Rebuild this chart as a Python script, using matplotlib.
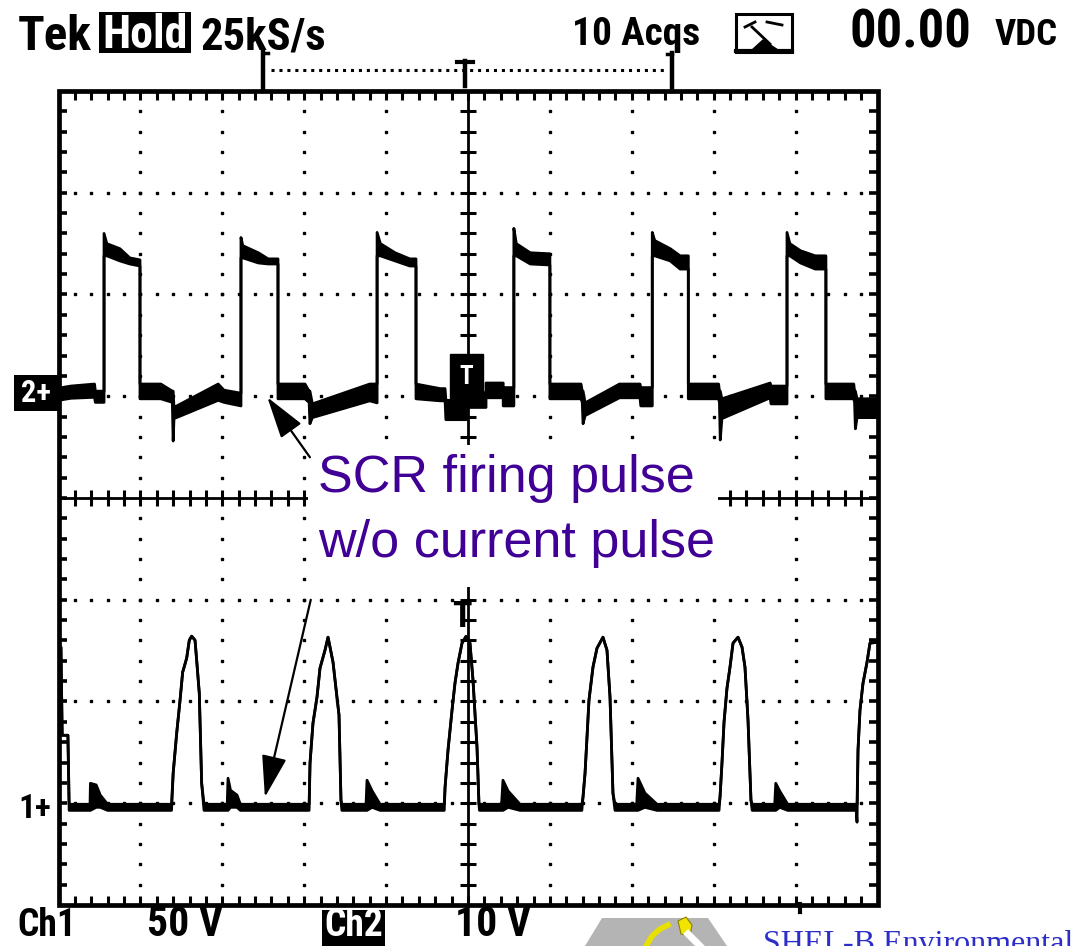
import matplotlib
matplotlib.use("Agg")
import matplotlib.pyplot as plt
from matplotlib import font_manager
from matplotlib.patches import Rectangle, Polygon

# scope settings (Tek, 10 ms/div, Ch1 50 V/div, Ch2 10 V/div)
ms_per_div = 10.0
ch1_volts_per_div = 50.0
ch2_volts_per_div = 10.0
ch1_ground_div = -3.0
ch2_ground_div = 1.0

# Ch2 : SCR gate firing pulses, envelope of 10 acqs  (t ms, low V, high V)
ch2_trace = [
    (0.0, -0.4, 0.8), (1.5, -0.2, 1.0), (4.4, -0.1, 1.2), (4.5, -0.6, 0.5),
    (5.56, -0.6, 0.5), (5.56, 13.8, 16.0), (5.9, 13.8, 15.0), (7.5, 13.3, 14.5),
    (8.7, 13.0, 13.6), (9.95, 12.8, 13.4), (9.95, -0.25, 1.2), (12.5, -0.25, 1.2),
    (13.9, -0.6, 0.5), (14.0, -4.4, 0.5), (14.1, -2.2, -1.1), (19.5, -0.4, 1.2),
    (20.2, -0.6, 0.6), (22.28, -0.95, 0.3),
    (22.28, 13.6, 15.6), (22.5, 13.6, 14.8), (24.4, 13.1, 14.1), (25.6, 13.0, 13.5),
    (26.8, 13.0, 13.5), (26.8, -0.25, 1.2), (30.1, -0.25, 1.2), (30.6, -0.6, 0.5),
    (30.7, -2.7, 0.5), (31.0, -2.1, -0.75), (38.0, -0.45, 1.2), (38.9, -0.65, 1.2),
    (38.9, 13.8, 16.1), (39.3, 13.8, 15.0), (41.1, 13.3, 14.1), (42.9, 12.8, 13.5),
    (43.65, 12.8, 13.5), (43.65, -0.25, 1.2), (46.6, -0.45, 0.75), (47.2, -0.45, 0.75),
    (47.3, -2.3, -0.4), (49.8, -2.3, -0.4), (49.8, -1.1, 0.35), (52.2, -1.1, 0.35),
    (52.2, -0.15, 1.3), (54.3, -0.15, 1.3), (54.3, -0.95, 0.85), (55.6, -0.95, 0.85),
    (55.6, 13.8, 16.5), (55.9, 13.8, 15.0), (57.6, 13.0, 14.1), (60.0, 12.9, 14.0),
    (60.0, -0.25, 1.2), (63.8, -0.25, 1.2), (63.95, -0.6, 0.5), (64.05, -2.7, 0.5),
    (64.3, -1.9, -0.65), (68.5, -0.15, 1.2), (71.0, -0.15, 1.2), (71.1, -0.95, 0.85),
    (72.5, -0.95, 0.85),
    (72.5, 13.8, 16.1), (72.8, 13.8, 15.3), (74.7, 13.3, 14.5), (75.9, 12.5, 13.8),
    (76.9, 12.5, 13.8), (76.9, -0.25, 1.2), (80.6, -0.25, 1.2), (80.7, -0.6, 0.5),
    (80.8, -4.3, 0.5), (81.0, -2.2, -0.25), (86.9, -0.15, 1.3), (87.0, -0.75, 1.0),
    (88.95, -0.75, 1.0),
    (88.95, 13.8, 16.1), (89.3, 13.8, 15.0), (90.6, 13.1, 14.3), (92.4, 12.5, 13.8),
    (93.7, 12.5, 13.8), (93.7, -0.25, 1.2), (97.1, -0.25, 1.2), (97.2, -0.6, 0.5),
    (97.3, -3.2, 0.5), (97.5, -2.1, -0.25), (100.0, -2.1, -0.25),
]

# Ch1 : load current pulses  (t ms, low V, high V)
ch1_trace = [
    (0.0, 76.7, 76.7), (0.3, 76.7, 76.7), (0.45, 33.4, 33.4), (1.15, 33.4, 33.4),
    (1.3, -3.5, -0.5), (3.85, -3.5, -0.5), (3.9, -3.5, 9.8), (4.6, -2.0, 9.0),
    (5.1, -2.0, 4.0), (6.0, -3.5, -0.5), (13.8, -3.5, -0.5),
    (14.0, 14.7, 14.7), (14.43, 34.4, 34.4), (14.84, 50.6, 50.6), (15.16, 64.4, 64.4),
    (15.65, 71.3, 71.3), (15.97, 80.1, 80.1), (16.26, 82.1, 82.1), (16.67, 80.1, 80.1),
    (16.87, 70.3, 70.3), (17.19, 54.1, 54.1), (17.48, 9.8, 9.8), (17.77, -3.5, -0.5),
    (20.6, -3.5, -0.5), (20.7, -3.5, 12.3), (21.0, -2.0, 6.4), (21.8, -2.0, 4.0),
    (22.2, -3.5, -0.5), (30.6, -3.5, -0.5),
    (30.71, 19.7, 19.7), (31.07, 39.3, 39.3), (31.56, 52.1, 52.1), (31.93, 66.4, 66.4),
    (32.54, 75.2, 75.2), (32.91, 81.6, 81.6), (33.52, 69.3, 69.3), (34.0, 52.1, 52.1),
    (34.25, 43.3, 43.3), (34.49, 1.5, 1.5), (34.6, -3.5, -0.5),
    (37.55, -3.5, -0.5), (37.67, -3.5, 11.3), (38.3, -2.0, 6.0), (39.26, -3.5, -0.5),
    (47.1, -3.5, -0.5),
    (47.2, 7.9, 7.9), (47.56, 26.1, 26.1), (48.05, 45.7, 45.7), (48.41, 59.0, 59.0),
    (48.78, 68.8, 68.8), (49.27, 78.7, 78.7), (49.76, 82.0, 82.0), (50.24, 78.7, 78.7),
    (50.61, 60.5, 60.5), (51.1, 27.5, 27.5), (51.34, -0.5, -0.5), (51.4, -3.5, -0.5),
    (54.1, -3.5, -0.5), (54.27, -3.5, 11.3), (54.9, -2.0, 6.0), (56.35, -3.5, -0.5),
    (63.9, -3.5, -0.5),
    (64.04, 2.9, 2.9), (64.29, 14.7, 14.7), (64.53, 32.4, 32.4), (64.77, 50.6, 50.6),
    (65.26, 66.9, 66.9), (65.75, 76.2, 76.2), (66.48, 81.6, 81.6), (66.97, 75.2, 75.2),
    (67.34, 52.1, 52.1), (67.7, 4.9, 4.9), (67.95, -3.5, -0.5),
    (70.6, -3.5, -0.5), (70.76, -3.5, 12.3), (71.6, -2.0, 5.0), (73.08, -3.5, -0.5),
    (80.65, -3.5, -0.5),
    (80.77, 2.9, 2.9), (81.01, 19.7, 19.7), (81.26, 39.8, 39.8), (81.62, 56.5, 56.5),
    (81.99, 66.9, 66.9), (82.36, 78.7, 78.7), (82.97, 81.6, 81.6), (83.46, 76.7, 76.7),
    (83.82, 66.9, 66.9), (84.19, 40.8, 40.8), (84.55, 1.5, 1.5), (84.7, -3.5, -0.5),
    (87.45, -3.5, -0.5), (87.58, -3.5, 9.8), (88.06, -2.0, 6.0), (89.04, -3.5, -0.5),
    (97.4, -3.5, -0.5), (97.5, -9.3, -0.5),
    (97.62, 26.1, 26.1), (97.86, 45.7, 45.7), (98.23, 59.0, 59.0), (98.72, 69.3, 69.3),
    (99.08, 78.7, 78.7), (100.0, 79.1, 79.1),
]

header_left = ["Tek", "Hold", "25kS/s"]
header_right = ["10 Acqs", "00.00", "VDC"]
footer = ["Ch1", "50 V", "Ch2", "10 V"]
note_lines = ["SCR firing pulse", "w/o current pulse"]
note_color = "#400096"

names = {f.name for f in font_manager.fontManager.ttflist}
scope_font = dict(family="DejaVu Sans", weight="bold", stretch="condensed")
for cand in ["Liberation Sans Narrow", "Roboto Condensed", "Open Sans Condensed"]:
    if cand in names:
        scope_font = dict(family=cand, weight="bold")
        break

fig = plt.figure(figsize=(10.73, 9.46), dpi=100, facecolor="white")
renderer = fig.canvas.get_renderer()

# overlay in pixel units for the scope header / footer
deco = fig.add_axes([0, 0, 1, 1])
deco.set_xlim(0, 1073)
deco.set_ylim(946, 0)
deco.axis("off")

ax = fig.add_axes([58.5 / 1073, 1 - 905 / 946, 819 / 1073, 814 / 946])
ax.set_xlim(0, 10)
ax.set_ylim(-4, 4)
ax.axis("off")
ax.patch.set_visible(False)


def scope_text(x0, x1, y, s, size, color="k", ha="left", va="baseline"):
    # scope's narrow pixel font: shrink until the text fits its slot
    xt = x0 if ha == "left" else (x0 + x1) / 2
    t = deco.text(xt, y, s, fontsize=size, color=color, ha=ha, va=va, **scope_font)
    w = t.get_window_extent(renderer=renderer).width
    if w > x1 - x0:
        t.set_fontsize(size * (x1 - x0) / w)
    return t


# ---- graticule
minor_x = [i * 0.2 for i in range(1, 50)]
minor_y = [-4 + i * 0.2 for i in range(1, 40)]
for gx in range(1, 10):
    if gx != 5:
        ax.plot([gx] * len(minor_y), minor_y, "s", color="k", ms=2.0, zorder=1)
for gy in range(-3, 4):
    if gy != 0:
        ax.plot(minor_x, [gy] * len(minor_x), "s", color="k", ms=2.0, zorder=1)

ax.plot([5, 5], [-4, 4], color="k", lw=2.0, zorder=1)
ax.plot([0, 10], [0, 0], color="k", lw=2.0, zorder=1)
ax.hlines(minor_y, 5 - 0.1, 5 + 0.1, color="k", lw=2.2, zorder=1)
ax.vlines(minor_x, -0.08, 0.08, color="k", lw=2.2, zorder=1)

ax.vlines(minor_x, 4 - 0.09, 4, color="k", lw=2.2, zorder=1)
ax.vlines(minor_x, -4, -4 + 0.09, color="k", lw=2.2, zorder=1)
ax.hlines(minor_y, 0, 0.1, color="k", lw=2.6, zorder=1)
ax.hlines(minor_y, 10 - 0.1, 10, color="k", lw=2.6, zorder=1)
ax.add_patch(Rectangle((0, -4), 10, 8, fill=False, ec="k", lw=3.4,
                       clip_on=False, zorder=2))


# ---- traces
def draw_trace(pts, ground, vdiv):
    t = [p[0] / ms_per_div for p in pts]
    lo = [p[1] / vdiv + ground for p in pts]
    hi = [p[2] / vdiv + ground for p in pts]
    ax.fill_between(t, lo, hi, color="k", lw=0, zorder=3)
    ax.plot(t, lo, color="k", lw=2.0, zorder=3)
    ax.plot(t, hi, color="k", lw=2.0, zorder=3)


draw_trace(ch2_trace, ch2_ground_div, ch2_volts_per_div)
draw_trace(ch1_trace, ch1_ground_div, ch1_volts_per_div)

# trigger markers
ax.add_patch(Rectangle((4.78, 0.98), 0.4, 0.435, fc="k", ec="k", zorder=4))
ax.text(4.98, 1.19, "T", color="white", ha="center", va="center",
        fontsize=18, zorder=5, **scope_font)
ax.text(4.92, -1.17, "T", color="k", ha="center", va="center",
        fontsize=26, zorder=5, **scope_font)

# ---- annotation
ax.add_patch(Rectangle((3.05, -0.87), 5.0, 1.39, fc="white", ec="none", zorder=5))
ax.text(3.17, 0.06, note_lines[0], color=note_color, fontsize=37.5,
        family="Liberation Sans", va="baseline", zorder=6)
ax.text(3.17, -0.58, note_lines[1], color=note_color, fontsize=37.5,
        family="Liberation Sans", va="baseline", zorder=6)
arrow = dict(arrowstyle="-|>,head_length=1.0,head_width=0.3", color="k",
             lw=1.6, shrinkA=0, shrinkB=0, mutation_scale=26)
ax.annotate("", xy=(2.55, 0.99), xytext=(3.07, 0.40), arrowprops=arrow, zorder=6)
ax.annotate("", xy=(2.52, -2.94), xytext=(3.08, -1.0), arrowprops=arrow, zorder=6)

# ---- header
scope_text(18, 92, 50, header_left[0], 37)
deco.add_patch(Rectangle((99, 12), 92, 41, fc="k", ec="none"))
scope_text(102, 188, 48, header_left[1], 33, color="white", ha="center")
scope_text(200, 326, 50, header_left[2], 36)
scope_text(572, 700, 45, header_right[0], 29)
scope_text(850, 972, 47, header_right[1], 38)
scope_text(995, 1058, 45, header_right[2], 27)

# acquisition icon
deco.add_patch(Rectangle((736, 14), 56, 38, fill=False, ec="k", lw=2.2))
deco.plot([736, 792], [51, 51], color="k", lw=3)
deco.plot([745, 755], [27, 22], color="k", lw=2)
deco.plot([767, 782], [22, 25], color="k", lw=2)
deco.plot([752, 770], [27, 44], color="k", lw=2)
deco.add_patch(Polygon([(752, 50), (763, 40), (778, 50)], fc="k", ec="k"))

# trigger position bar
deco.plot([263, 263], [52, 91], color="k", lw=3.2)
deco.plot([263, 268], [53, 53], color="k", lw=2.5)
deco.plot([271, 664], [70, 70], color="k", lw=2.2, ls=(0, (1, 1.6)))
deco.plot([465, 465], [61, 86], color="k", lw=3.2)
deco.plot([457, 473], [62, 62], color="k", lw=3.0)
deco.plot([672, 672], [53, 91], color="k", lw=3.2)
deco.plot([667, 672], [54, 54], color="k", lw=2.5)

# ground markers
deco.add_patch(Rectangle((14, 375), 44, 36, fc="k", ec="none"))
scope_text(16, 56, 393, "2+", 22, color="white", ha="center", va="center")
scope_text(16, 54, 809, "1+", 24, ha="center", va="center")
deco.plot([800, 800], [904, 912], color="k", lw=3)

# ---- footer
scope_text(17, 76, 936, footer[0], 30)
scope_text(147, 227, 936, footer[1], 30)
deco.add_patch(Rectangle((322, 910), 63, 40, fc="k", ec="none"))
scope_text(324, 383, 936, footer[2], 30, color="white", ha="center")
scope_text(455, 535, 936, footer[3], 30)

# logo fragment and caption cut by the slide edge
deco.add_patch(Polygon([(602, 918), (708, 918), (727, 946), (585, 946)],
                       fc="#b4b4b4", ec="none"))
deco.plot([646, 652, 660, 668], [946, 936, 929, 925], color="#e8e000", lw=4)
deco.add_patch(Polygon([(678, 921), (686, 917), (692, 925), (690, 936), (681, 934)],
                       fc="#f0e400", ec="#8a8000", lw=0.8))
deco.plot([688, 700], [934, 946], color="white", lw=5)
deco.text(763, 952, "SHEL-B Environmental", color="#2d2dc8", fontsize=23,
          family="Liberation Serif", va="baseline", clip_on=True)

fig.savefig("out.png", dpi=100, facecolor="white")
